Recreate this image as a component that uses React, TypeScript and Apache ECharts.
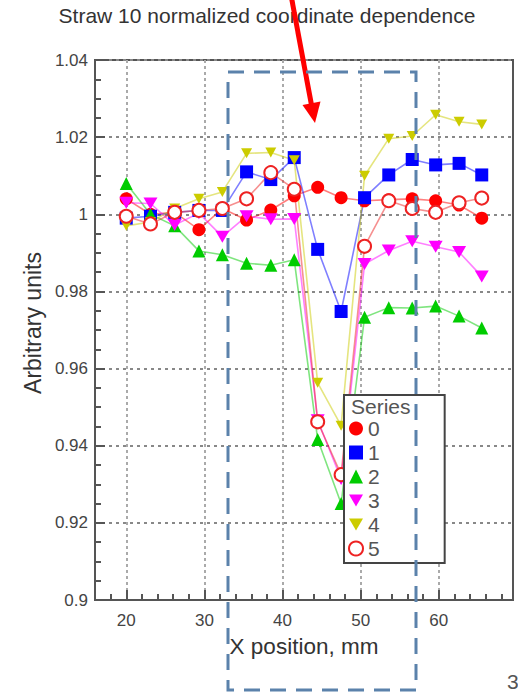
import React, { useEffect, useRef } from 'react';
import * as echarts from 'echarts';

const FONT = '"Liberation Sans", Arial, sans-serif';

const xPositions = [20, 23.1, 26.2, 29.3, 32.3, 35.4, 38.5, 41.5, 44.5, 47.5, 50.5, 53.6, 56.6, 59.6, 62.6, 65.5];
const series0 = [1.004, 1.0, 1.0005, 0.996, 1.0015, 0.9985, 1.0011, 1.0048, 1.007, 1.0043, 1.0035, 1.0038, 1.004, 1.0035, 1.0024, 0.999];
const series1 = [0.999, 0.9995, 1.0005, 1.001, 1.001, 1.011, 1.009, 1.0147, 0.9909, 0.9748, 1.0043, 1.0102, 1.0142, 1.0128, 1.0132, 1.0102];
const series2 = [1.008, 1.0, 0.997, 0.9905, 0.9895, 0.9873, 0.9868, 0.9882, 0.9416, 0.925, 0.9733, 0.9758, 0.9757, 0.9762, 0.9736, 0.9705];
const series3 = [1.003, 1.0028, 0.9972, 1.0003, 0.9942, 0.9995, 0.9987, 0.9988, 0.9466, 0.9314, 0.9871, 0.9906, 0.993, 0.9916, 0.9902, 0.9839];
const series4 = [0.997, 0.998, 1.0015, 1.004, 1.0058, 1.0158, 1.016, 1.014, 0.9563, 0.9452, 1.01, 1.0196, 1.0203, 1.0258, 1.024, 1.0233];
const series5 = [0.9995, 0.9975, 1.0005, 1.001, 1.0015, 1.004, 1.0108, 1.0065, 0.9462, 0.9325, 0.9917, 1.0035, 1.0015, 1.0005, 1.003, 1.0042];

const seriesNames = ['0', '1', '2', '3', '4', '5'];
const majorXTicks = [20, 30, 40, 50, 60];

const DOWN_TRI = 'path://M0,0L10,0L5,8.66Z';

export default function App() {
  const ref = useRef<HTMLDivElement>(null);
  useEffect(() => {
    if (!ref.current) return;
    const chart = echarts.init(ref.current, undefined, { renderer: 'svg' });
    const pair = (vals: number[]) => vals.map((v, i) => [xPositions[i], v]);
    const lineBase = (color: string) => ({ width: 1.6, color, opacity: 0.5 });

    const option: any = {
      animation: false,
      backgroundColor: '#fff',
      title: {
        text: 'Straw 10 normalized coordinate dependence',
        left: 267,
        textAlign: 'center',
        top: 5,
        padding: 0,
        textStyle: { fontFamily: FONT, fontSize: 21, fontWeight: 'normal', color: '#333' },
      },
      grid: {
        left: 95, right: 5, top: 60, bottom: 93,
        show: true, borderColor: '#555', borderWidth: 2, backgroundColor: 'transparent',
      },
      xAxis: [
        {
          type: 'value', min: 16, max: 69.5, position: 'bottom',
          name: 'X position, mm', nameLocation: 'middle', nameGap: 35,
          nameTextStyle: { fontFamily: FONT, fontSize: 22.5, color: '#333' },
          axisLine: { show: true, onZero: false, lineStyle: { color: '#555', width: 2 } },
          axisTick: { show: true, inside: true, length: 10, customValues: majorXTicks, lineStyle: { color: '#555', width: 2 } },
          axisLabel: { customValues: majorXTicks, margin: 12, fontFamily: FONT, fontSize: 17, color: '#444' },
          splitLine: { show: true, lineStyle: { color: '#aaa', type: [3, 3], width: 2 } },
        },
        {
          type: 'value', min: 16, max: 69.5, interval: 2, position: 'bottom',
          axisLine: { show: false },
          axisTick: { show: true, inside: true, length: 6, lineStyle: { color: '#555', width: 2 } },
          axisLabel: { show: false },
          splitLine: { show: false },
        },
      ],
      yAxis: {
        type: 'value', min: 0.9, max: 1.04, interval: 0.02,
        axisLine: { show: true, onZero: false, lineStyle: { color: '#555', width: 2 } },
        axisTick: { show: true, inside: true, length: 10, lineStyle: { color: '#555', width: 2 } },
        minorTick: { show: true, splitNumber: 4, length: 6, lineStyle: { color: '#555', width: 2 } },
        axisLabel: { margin: 7, fontFamily: FONT, fontSize: 17, color: '#444' },
        splitLine: { show: true, lineStyle: { color: '#888', type: [3, 4], width: 2 } },
      },
      legend: {
        orient: 'vertical', left: 344, top: 395,
        padding: [23, 65, 4, 4],
        itemWidth: 14, itemHeight: 14, itemGap: 3,
        borderColor: '#444', borderWidth: 2, backgroundColor: '#fff',
        textStyle: { fontFamily: FONT, fontSize: 21, color: '#555' },
        data: [
          { name: '0', icon: 'circle' },
          { name: '1', icon: 'rect' },
          { name: '2', icon: 'triangle' },
          { name: '3', icon: DOWN_TRI },
          { name: '4', icon: DOWN_TRI },
          { name: '5', icon: 'emptyCircle' },
        ],
      },
      series: [
        { name: seriesNames[0], type: 'line', data: pair(series0), symbol: 'circle', symbolSize: 13,
          itemStyle: { color: '#ff0000' }, lineStyle: lineBase('#ff0000') },
        { name: seriesNames[1], type: 'line', data: pair(series1), symbol: 'rect', symbolSize: 13,
          itemStyle: { color: '#0000ff' }, lineStyle: lineBase('#0000ff') },
        { name: seriesNames[2], type: 'line', data: pair(series2), symbol: 'triangle', symbolSize: 13,
          itemStyle: { color: '#00cc00' }, lineStyle: lineBase('#00cc00') },
        { name: seriesNames[3], type: 'line', data: pair(series3), symbol: DOWN_TRI, symbolSize: [14, 12],
          itemStyle: { color: '#ff00ff' }, lineStyle: lineBase('#ff00ff') },
        { name: seriesNames[4], type: 'line', data: pair(series4), symbol: DOWN_TRI, symbolSize: [11, 10],
          itemStyle: { color: '#cccc00' }, lineStyle: lineBase('#cccc00') },
        { name: seriesNames[5], type: 'line', data: pair(series5), symbol: 'emptyCircle', symbolSize: 13,
          itemStyle: { color: '#ee2222', borderColor: '#ee2222', borderWidth: 1.5 }, lineStyle: lineBase('#ee2222') },
      ],
      graphic: [
        { type: 'text', z: 100, x: 33, y: 323, rotation: Math.PI / 2,
          style: { text: 'Arbitrary units', fontFamily: FONT, fontSize: 23, fill: '#333', verticalAlign: 'middle', textAlign: 'center' } },
        { type: 'text', z: 100, x: 351, y: 406,
          style: { text: 'Series', fontFamily: FONT, fontSize: 21, fill: '#555', verticalAlign: 'middle', textAlign: 'left' } },
        { type: 'line', z: 100, shape: { x1: 291, y1: -5, x2: 311.5, y2: 105 },
          style: { stroke: '#ff0000', lineWidth: 5 } },
        { type: 'polygon', z: 100, shape: { points: [[315, 123], [320.5, 101.5], [302.5, 105]] },
          style: { fill: '#ff0000' } },
        { type: 'rect', z: 101, shape: { x: 228, y: 72, width: 188, height: 618 },
          style: { fill: 'none', stroke: '#5b82ab', lineWidth: 3, lineDash: [16, 10] } },
        { type: 'text', z: 100, x: 507, y: 681,
          style: { text: '3', fontFamily: FONT, fontSize: 21, fill: '#555', verticalAlign: 'middle' } },
      ],
    };
    chart.setOption(option);
    return () => chart.dispose();
  }, []);
  return <div ref={ref} style={{ position: 'fixed', left: 0, top: 0, width: 518, height: 693 }} />;
}
